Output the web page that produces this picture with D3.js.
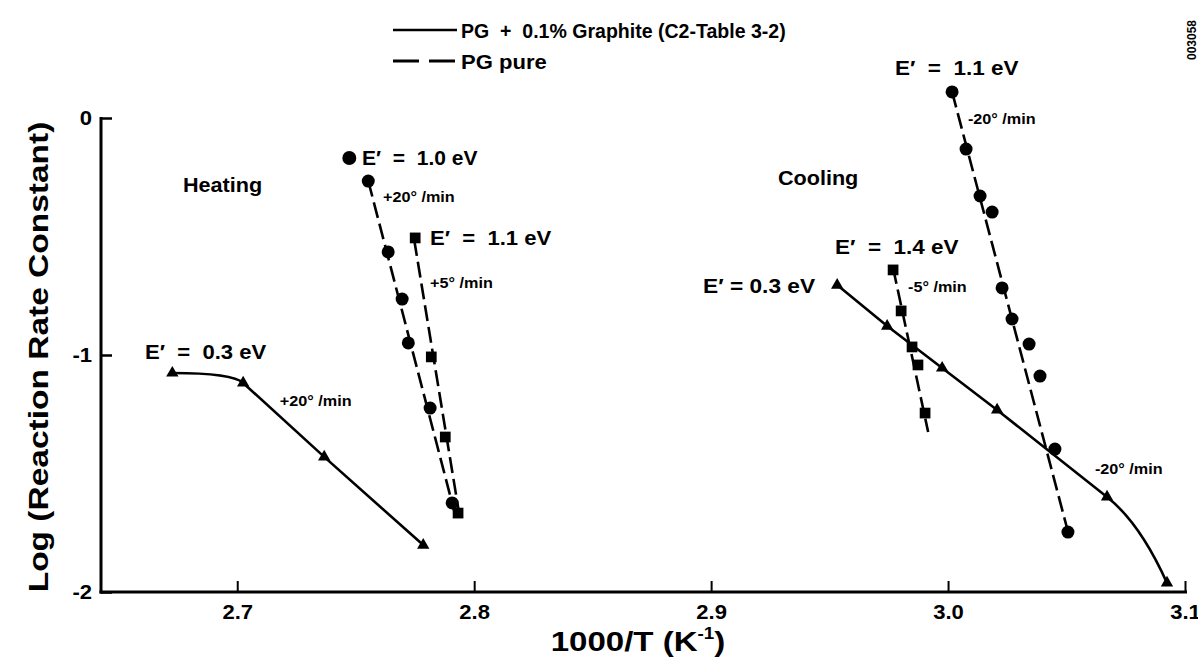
<!DOCTYPE html>
<html>
<head>
<meta charset="utf-8">
<script src="https://cdn.jsdelivr.net/npm/d3@7"></script>
<style>
  html, body { margin: 0; padding: 0; background: #fff; }
  svg text { font-family: "Liberation Sans", Arial, Helvetica, sans-serif; font-weight: bold; fill: #000; }
</style>
</head>
<body>
<svg id="chart" width="1198" height="664"></svg>
<script>
// ---- Heating, PG + 0.1% graphite, +20°/min (E' = 0.3 eV)
const heatGraphiteX = [2.6726, 2.7025, 2.7367, 2.7785];
const heatGraphiteY = [-1.076, -1.118, -1.430, -1.802];

// ---- Heating, PG pure, +20°/min (E' = 1.0 eV)
const heatPure20X = [2.7553, 2.7637, 2.7696, 2.7722, 2.7814, 2.7907];
const heatPure20Y = [-0.266, -0.565, -0.764, -0.949, -1.224, -1.624];
const heatPure20FitX = [2.7553, 2.7920];
const heatPure20FitY = [-0.266, -1.675];
const heatPure20LoneX = [2.7473];
const heatPure20LoneY = [-0.169];

// ---- Heating, PG pure, +5°/min (E' = 1.1 eV)
const heatPure5X = [2.7751, 2.7819, 2.7878, 2.7932];
const heatPure5Y = [-0.506, -1.008, -1.346, -1.667];
const heatPure5FitX = [2.7747, 2.7941];
const heatPure5FitY = [-0.515, -1.696];

// ---- Cooling, PG + 0.1% graphite, -20°/min (E' = 0.3 eV)
const coolGraphiteX = [2.9532, 2.9743, 2.9975, 3.0207, 3.0671, 3.0924];
const coolGraphiteY = [-0.705, -0.878, -1.055, -1.232, -1.599, -1.962];

// ---- Cooling, PG pure, -5°/min (E' = 1.4 eV)
const coolPure5X = [2.9768, 2.9802, 2.9848, 2.9873, 2.9903];
const coolPure5Y = [-0.641, -0.814, -0.966, -1.042, -1.245];
const coolPure5FitX = [2.9768, 2.9916];
const coolPure5FitY = [-0.633, -1.325];

// ---- Cooling, PG pure, -20°/min (E' = 1.1 eV)
const coolPure20X = [3.0017, 3.0076, 3.0135, 3.0186, 3.0228, 3.0270, 3.0342, 3.0388, 3.0451, 3.0506];
const coolPure20Y = [0.110, -0.131, -0.329, -0.397, -0.717, -0.848, -0.954, -1.089, -1.397, -1.747];
const coolPure20FitX = [3.0017, 3.0502];
const coolPure20FitY = [0.110, -1.730];

// ---- Axes
const xTicks = [2.7, 2.8, 2.9, 3.0, 3.1];
const yTicks = [0, -1, -2];
const xDomain = [2.6425, 3.1];
const yDomain = [-2, 0];

// ---- Legend entries
const legendLabels = ["PG  +  0.1% Graphite (C2-Table 3-2)", "PG pure"];

// ---- Text annotations (anchored in data units: left edge, vertical middle)
const annotations = [
  { text: "Heating",            x: 2.6771, y: -0.283, size: 20, k: 1.08 },
  { text: "Cooling",            x: 2.9282, y: -0.253, size: 20, k: 1.08 },
  { text: "E\u2032  =  0.3 eV", x: 2.6611, y: -0.987, size: 21, k: 1.05 },
  { text: "+20\u00b0 /min",     x: 2.7180, y: -1.190, size: 15, k: 1.08 },
  { text: "E\u2032  =  1.0 eV", x: 2.7527, y: -0.165, size: 21, k: 1.0 },
  { text: "+20\u00b0 /min",     x: 2.7615, y: -0.333, size: 15, k: 1.08 },
  { text: "E\u2032  =  1.1 eV", x: 2.7814, y: -0.506, size: 21, k: 1.05 },
  { text: "+5\u00b0 /min",      x: 2.7814, y: -0.696, size: 15, k: 1.08 },
  { text: "E\u2032  =  1.1 eV", x: 2.9776, y: 0.211,  size: 21, k: 1.07 },
  { text: "-20\u00b0 /min",     x: 3.0084, y: 0.000,  size: 15, k: 1.08 },
  { text: "E\u2032  =  1.4 eV", x: 2.9523, y: -0.544, size: 21, k: 1.07 },
  { text: "E\u2032 = 0.3 eV",   x: 2.8966, y: -0.705, size: 21, k: 1.08 },
  { text: "-5\u00b0 /min",      x: 2.9831, y: -0.713, size: 15, k: 1.08 },
  { text: "-20\u00b0 /min",     x: 3.0620, y: -1.477, size: 15, k: 1.08 }
];

const svg = d3.select("#chart");
const x = d3.scaleLinear().domain(xDomain).range([101, 1185]);
const y = d3.scaleLinear().domain(yDomain).range([592, 118]);

const zip = (xs, ys) => xs.map((v, i) => [x(v), y(ys[i])]);

// widen a text run horizontally by factor k (the lettering is a broad grotesque)
function widen(sel, k) {
  sel.each(function () {
    const w = this.getComputedTextLength();
    d3.select(this).attr("textLength", w * (typeof k === "function" ? k(d3.select(this).datum()) : k))
      .attr("lengthAdjust", "spacingAndGlyphs");
  });
}

// ---- Axes
const xAxis = d3.axisBottom(x).tickValues(xTicks).tickFormat(d3.format(".1f"))
  .tickSizeInner(-11).tickSizeOuter(0).tickPadding(12);
const gx = svg.append("g").attr("transform", `translate(0,${y(-2)})`).call(xAxis);
gx.select(".domain").remove();
gx.selectAll(".tick line").attr("stroke", "#000").attr("stroke-width", 2);
gx.selectAll(".tick text").attr("font-size", 21).attr("font-family", null).call(widen, 1.05);

const yAxis = d3.axisLeft(y).tickValues(yTicks).tickFormat(d => String(d))
  .tickSizeInner(-11).tickSizeOuter(0).tickPadding(9);
const gy = svg.append("g").attr("transform", `translate(${x(xDomain[0])},0)`).call(yAxis);
gy.select(".domain").remove();
gy.selectAll(".tick line").attr("stroke", "#000").attr("stroke-width", 2.5);
gy.selectAll(".tick text").attr("font-size", 21).attr("font-family", null).call(widen, 1.05);

svg.append("line")
  .attr("x1", x(xDomain[0])).attr("x2", x(xDomain[0]))
  .attr("y1", y(0) - 1).attr("y2", y(-2) + 1.5)
  .attr("stroke", "#000").attr("stroke-width", 3);
svg.append("line")
  .attr("x1", x(xDomain[0]) - 1.5).attr("x2", x(3.1) + 2)
  .attr("y1", y(-2)).attr("y2", y(-2))
  .attr("stroke", "#000").attr("stroke-width", 3);

// ---- Axis titles
svg.append("text")
  .attr("transform", `translate(39,${(y(0) + y(-2)) / 2 + 2}) rotate(-90)`)
  .attr("text-anchor", "middle").attr("dominant-baseline", "central")
  .attr("font-size", 27)
  .text("Log (Reaction Rate Constant)")
  .call(widen, 1.24);

const xt = svg.append("g").attr("transform", "translate(638,651) scale(1.18,1)")
  .append("text").attr("text-anchor", "middle").attr("font-size", 28);
xt.append("tspan").text("1000/T (K");
xt.append("tspan").attr("font-size", 16).attr("dy", -12).text("-1");
xt.append("tspan").attr("dy", 12).text(")");

// ---- Line helpers
const lineGen = d3.line();

// straight run with a rounded knee on the first segment (flat start)
function kneeStart(pts) {
  const p = d3.path();
  const a = pts[0], b = pts[1], c = pts[2];
  const dx = c[0] - b[0], dy = c[1] - b[1];
  const t = (b[1] - a[1]) / dy;
  const ctrl = [b[0] - t * dx, a[1]];
  p.moveTo(a[0], a[1]);
  p.quadraticCurveTo(ctrl[0], ctrl[1], b[0], b[1]);
  for (let i = 2; i < pts.length; i++) p.lineTo(pts[i][0], pts[i][1]);
  return p.toString();
}
// straight run that bends away on the last segment
function kneeEnd(pts) {
  const n = pts.length;
  const p = d3.path();
  p.moveTo(pts[0][0], pts[0][1]);
  for (let i = 1; i < n - 1; i++) p.lineTo(pts[i][0], pts[i][1]);
  const a = pts[n - 2], b = pts[n - 1], o = pts[n - 3];
  const dx = a[0] - o[0], dy = a[1] - o[1];
  const s = 0.55 * (b[0] - a[0]) / dx;
  p.quadraticCurveTo(a[0] + s * dx, a[1] + s * dy, b[0], b[1]);
  return p.toString();
}

const solid = { stroke: "#000", "stroke-width": 2.6, fill: "none" };
const dashed = { stroke: "#000", "stroke-width": 2.6, fill: "none", "stroke-dasharray": "16,6" };
function styled(sel, st) { Object.entries(st).forEach(([k, v]) => sel.attr(k, v)); return sel; }

styled(svg.append("path").attr("d", kneeStart(zip(heatGraphiteX, heatGraphiteY))), solid);
styled(svg.append("path").attr("d", kneeEnd(zip(coolGraphiteX, coolGraphiteY))), solid);
styled(svg.append("path").attr("d", lineGen(zip(heatPure20FitX, heatPure20FitY))), dashed);
styled(svg.append("path").attr("d", lineGen(zip(heatPure5FitX, heatPure5FitY))), dashed);
styled(svg.append("path").attr("d", lineGen(zip(coolPure5FitX, coolPure5FitY))), dashed);
styled(svg.append("path").attr("d", lineGen(zip(coolPure20FitX, coolPure20FitY))), dashed);

// ---- Markers
const tri = d3.symbol().type(d3.symbolTriangle).size(66)();
const sq = d3.symbol().type(d3.symbolSquare).size(115)();

function markers(xs, ys, kind, r) {
  const pts = zip(xs, ys);
  const g = svg.append("g");
  if (kind === "circle") {
    g.selectAll("circle").data(pts).join("circle")
      .attr("cx", d => d[0]).attr("cy", d => d[1]).attr("r", r || 6.5).attr("fill", "#000");
  } else {
    g.selectAll("path").data(pts).join("path")
      .attr("d", kind === "triangle" ? tri : sq)
      .attr("transform", d => `translate(${d[0]},${d[1]})`).attr("fill", "#000");
  }
}
markers(heatGraphiteX, heatGraphiteY, "triangle");
markers(coolGraphiteX, coolGraphiteY, "triangle");
markers(heatPure20X, heatPure20Y, "circle");
markers(heatPure20LoneX, heatPure20LoneY, "circle", 7);
markers(heatPure5X, heatPure5Y, "square");
markers(coolPure5X, coolPure5Y, "square");
markers(coolPure20X, coolPure20Y, "circle");

// ---- Annotations
svg.append("g").selectAll("text").data(annotations).join("text")
  .attr("x", d => x(d.x)).attr("y", d => y(d.y))
  .attr("dominant-baseline", "central")
  .attr("font-size", d => d.size)
  .style("white-space", "pre")
  .text(d => d.text)
  .call(widen, d => d.k);

// ---- Legend
const lg = svg.append("g");
lg.append("line").attr("x1", 393).attr("x2", 457).attr("y1", 30).attr("y2", 30)
  .attr("stroke", "#000").attr("stroke-width", 2.6);
lg.append("text").attr("x", 461).attr("y", 30).attr("dominant-baseline", "central")
  .attr("font-size", 21).style("white-space", "pre")
  .text(legendLabels[0])
  .call(widen, 0.93);
lg.append("line").attr("x1", 393).attr("x2", 457).attr("y1", 61).attr("y2", 61)
  .attr("stroke", "#000").attr("stroke-width", 3).attr("stroke-dasharray", "26,10");
lg.append("text").attr("x", 461).attr("y", 61).attr("dominant-baseline", "central")
  .attr("font-size", 21)
  .text(legendLabels[1])
  .call(widen, 1.05);

// ---- Figure number
svg.append("text")
  .attr("transform", "translate(1192,40) rotate(-90)")
  .attr("text-anchor", "middle").attr("dominant-baseline", "central")
  .attr("font-size", 12).attr("font-weight", "normal")
  .text("003058");
</script>
</body>
</html>
